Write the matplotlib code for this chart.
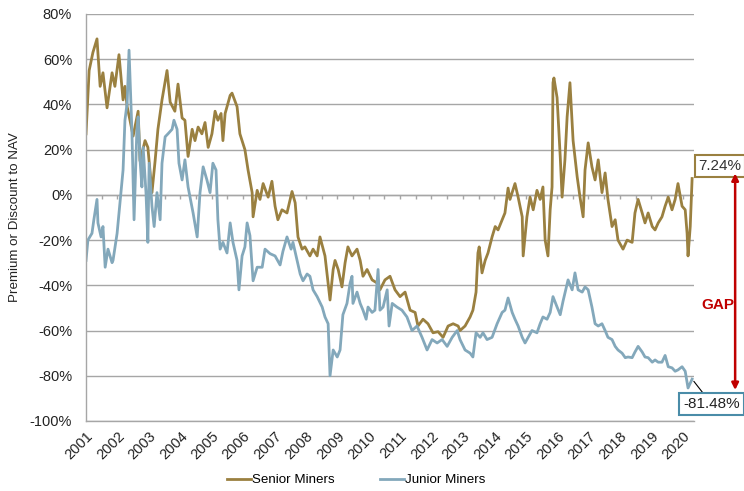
import matplotlib
matplotlib.use("Agg")
import matplotlib.pyplot as plt
import numpy as np

plt.rcParams["font.family"] = ["Liberation Sans", "DejaVu Sans"]
plt.rcParams["font.size"] = 10.5

# Data (decimal year, premium/discount in %)
senior_years = [2001.00, 2001.10, 2001.22, 2001.35, 2001.45, 2001.54, 2001.67, 2001.83, 2001.92, 2002.05,
                2002.18, 2002.24, 2002.31, 2002.40, 2002.50, 2002.66, 2002.72, 2002.88, 2002.97, 2003.10,
                2003.20, 2003.29, 2003.42, 2003.58, 2003.68, 2003.83, 2003.93, 2004.06, 2004.15, 2004.25,
                2004.38, 2004.47, 2004.57, 2004.69, 2004.79, 2004.89, 2005.01, 2005.11, 2005.20, 2005.30,
                2005.36, 2005.43, 2005.59, 2005.65, 2005.81, 2005.90, 2006.06, 2006.16, 2006.29, 2006.32,
                2006.45, 2006.54, 2006.64, 2006.80, 2006.92, 2007.02, 2007.11, 2007.24, 2007.40, 2007.56,
                2007.66, 2007.75, 2007.88, 2007.97, 2008.13, 2008.23, 2008.36, 2008.45, 2008.61, 2008.77,
                2008.87, 2008.93, 2009.03, 2009.15, 2009.25, 2009.34, 2009.47, 2009.63, 2009.73, 2009.82,
                2009.95, 2010.11, 2010.27, 2010.36, 2010.52, 2010.68, 2010.84, 2011.00, 2011.16, 2011.32,
                2011.48, 2011.57, 2011.73, 2011.89, 2012.05, 2012.21, 2012.37, 2012.53, 2012.69, 2012.85,
                2012.91, 2013.07, 2013.23, 2013.32, 2013.42, 2013.48, 2013.52, 2013.61, 2013.71, 2013.80,
                2013.93, 2014.03, 2014.12, 2014.25, 2014.34, 2014.44, 2014.50, 2014.66, 2014.76, 2014.89,
                2014.92, 2015.04, 2015.14, 2015.24, 2015.36, 2015.46, 2015.55, 2015.62, 2015.71, 2015.78,
                2015.84, 2015.87, 2015.90, 2016.00, 2016.10, 2016.16, 2016.25, 2016.32, 2016.41, 2016.51,
                2016.64, 2016.73, 2016.83, 2016.89, 2016.99, 2017.11, 2017.21, 2017.31, 2017.43, 2017.53,
                2017.62, 2017.75, 2017.85, 2017.94, 2018.10, 2018.23, 2018.39, 2018.48, 2018.58, 2018.71,
                2018.80, 2018.90, 2019.03, 2019.12, 2019.22, 2019.34, 2019.44, 2019.54, 2019.66, 2019.76,
                2019.85, 2019.98, 2020.08, 2020.14, 2020.17, 2020.24, 2020.30]
senior_values = [27, 55, 63, 69, 48, 54, 38.5, 54, 48, 62,
                 42, 48, 39, 33, 26, 37, 15, 24, 21, 1,
                 15, 29, 42, 55, 41, 37, 49, 34, 33, 17,
                 29, 24, 30, 27, 32, 21, 27, 37, 33, 36,
                 24, 36, 44, 45, 39, 27, 20, 11, 1, -9.7,
                 2, -2, 5, -1, 6, -5, -11, -6.6, -8, 1.5,
                 -3.5, -18.6, -24, -23, -27, -24, -27, -18.6, -27, -46.5,
                 -33, -29, -33, -40.7, -30, -23, -27, -24, -29, -36,
                 -33, -37.6, -39, -42, -37.6, -36, -42, -45, -43, -51,
                 -52, -58, -55, -57, -61, -60.5, -63, -58, -57, -58,
                 -60, -58, -54, -51, -43, -25.7, -23, -34.5, -29, -25.7,
                 -18.6, -14, -15.5, -11, -8, 3, -2, 5, -1, -9.7,
                 -27, -9.7, -1, -6.6, 2, -2, 3.5, -20, -27, -6.6,
                 3.5, 49.6, 51.7, 43, 17, -1, 15.5, 34.5, 49.6, 24,
                 8, -1, -9.7, 11, 23, 12.4, 6.6, 15.5, 1, 9.7,
                 -2, -14, -11, -20, -24, -20, -21, -8, -2, -8,
                 -12.4, -8, -14, -15.5, -12.4, -9.7, -5, -1, -6.6, -2,
                 5, -5, -6.6, -17, -27, -14, 7.24]

junior_years = [2001.00, 2001.06, 2001.19, 2001.25, 2001.35, 2001.38, 2001.48, 2001.54, 2001.61, 2001.70,
                2001.83, 2001.86, 2001.99, 2002.08, 2002.18, 2002.24, 2002.31, 2002.37, 2002.43, 2002.46,
                2002.53, 2002.62, 2002.66, 2002.72, 2002.78, 2002.82, 2002.91, 2002.97, 2003.01, 2003.10,
                2003.17, 2003.26, 2003.36, 2003.42, 2003.52, 2003.61, 2003.74, 2003.80, 2003.90, 2003.96,
                2004.06, 2004.15, 2004.25, 2004.41, 2004.54, 2004.63, 2004.73, 2004.85, 2004.95, 2005.04,
                2005.14, 2005.20, 2005.27, 2005.36, 2005.49, 2005.59, 2005.68, 2005.81, 2005.87, 2005.97,
                2006.06, 2006.13, 2006.22, 2006.32, 2006.45, 2006.61, 2006.70, 2006.86, 2007.02, 2007.18,
                2007.27, 2007.40, 2007.53, 2007.59, 2007.72, 2007.82, 2007.91, 2008.04, 2008.13, 2008.23,
                2008.36, 2008.52, 2008.61, 2008.71, 2008.77, 2008.87, 2009.00, 2009.09, 2009.18, 2009.31,
                2009.41, 2009.47, 2009.50, 2009.63, 2009.73, 2009.82, 2009.92, 2009.98, 2010.11, 2010.20,
                2010.30, 2010.36, 2010.46, 2010.59, 2010.65, 2010.75, 2010.90, 2011.06, 2011.22, 2011.38,
                2011.54, 2011.70, 2011.86, 2012.02, 2012.18, 2012.34, 2012.50, 2012.66, 2012.82, 2012.91,
                2013.07, 2013.23, 2013.32, 2013.42, 2013.55, 2013.64, 2013.77, 2013.93, 2014.09, 2014.25,
                2014.34, 2014.44, 2014.57, 2014.66, 2014.76, 2014.89, 2014.98, 2015.08, 2015.20, 2015.36,
                2015.46, 2015.55, 2015.68, 2015.78, 2015.87, 2016.00, 2016.10, 2016.19, 2016.35, 2016.48,
                2016.57, 2016.67, 2016.80, 2016.89, 2016.99, 2017.11, 2017.21, 2017.31, 2017.43, 2017.53,
                2017.62, 2017.75, 2017.85, 2017.94, 2018.07, 2018.17, 2018.26, 2018.39, 2018.48, 2018.58,
                2018.71, 2018.80, 2018.90, 2019.03, 2019.12, 2019.22, 2019.34, 2019.44, 2019.54, 2019.66,
                2019.76, 2019.85, 2019.98, 2020.08, 2020.17, 2020.30]
junior_values = [-29, -20, -17, -11, -2, -12.4, -18.6, -14, -32, -24,
                 -30, -29, -17, -3.5, 11, 33, 40.7, 64, 40.7, 29,
                 -11, 29, 34.5, 15.5, 3.5, 21, 1, -21, 14, -5,
                 -14, 1, -11, 14, 25.7, 27, 29, 33, 29, 14,
                 6.6, 15.5, 3.5, -8, -18.6, 1, 12.4, 6.6, 1, 14,
                 11, -11, -24, -21, -25.7, -12.4, -21, -29, -42, -27,
                 -23, -12.4, -18, -38, -32, -32, -24, -26, -27, -31,
                 -25, -18.6, -24, -21, -29, -35, -38, -35, -36, -42,
                 -45, -49.6, -54, -57, -80, -68.6, -71.7, -68.6, -53, -48,
                 -39, -36, -48, -43, -48, -51, -55, -49.6, -52, -51,
                 -33, -51, -49.6, -42, -58, -48, -49.6, -51, -54, -60,
                 -58, -63, -68.6, -64, -65.5, -64, -67, -63, -60, -64,
                 -68.6, -70, -71.7, -61, -63, -61, -64, -63, -57, -52,
                 -51, -45.6, -52, -55, -58, -63, -65.5, -63, -60, -61,
                 -57, -54, -55, -52, -45, -49.6, -53, -47, -37.6, -42,
                 -34.5, -42, -43, -40.7, -42, -49.6, -57, -58, -57, -60,
                 -63, -64, -67, -68.6, -70, -72, -71.7, -72, -69.5, -67,
                 -69.5, -71.7, -72, -74, -73, -74, -74, -71, -76, -76.5,
                 -78, -77.4, -76, -78, -85.4, -81.48]

year_ticks = list(range(2001, 2021))
half_year_ticks = np.arange(2001, 2020.4, 0.5)
y_ticks = list(range(-100, 81, 20))

gold = "#9A8040"
blue = "#83A8BB"

fig = plt.figure(figsize=(7.44, 4.91), dpi=100)
ax = fig.add_axes([0.1156, 0.1426, 0.8172, 0.8289])

ax.plot(senior_years, senior_values, color=gold, lw=2.0, label="Senior Miners", solid_joinstyle="round")
ax.plot(junior_years, junior_values, color=blue, lw=2.0, label="Junior Miners", solid_joinstyle="round")

ax.set_xlim(2001, 2020.36)
ax.set_ylim(-100, 80)
ax.set_yticks(y_ticks)
ax.set_yticklabels([f"{v}%" for v in y_ticks])
ax.set_xticks(year_ticks)
ax.set_xticklabels([str(y) for y in year_ticks], rotation=45, ha="right", rotation_mode="anchor")
ax.tick_params(axis="x", length=0, pad=6, labelsize=10.5, colors="#222222")
ax.tick_params(axis="y", length=0, pad=10, labelsize=10.5, colors="#222222")

ax.grid(axis="y", color="#A6A6A6", lw=1.0)
ax.set_axisbelow(True)
for s in ["top", "right"]:
    ax.spines[s].set_visible(False)
for s in ["left", "bottom"]:
    ax.spines[s].set_color("#A6A6A6")
    ax.spines[s].set_linewidth(1.0)

# category axis at 0% with small tick marks
ax.axhline(0, color="#A6A6A6", lw=1.0, zorder=0.5)
ax.vlines(half_year_ticks, -1.8, 0, color="#A6A6A6", lw=1.0, zorder=0.5)

ax.set_ylabel("Premium or Discount to NAV", fontsize=9.6, color="#222222", labelpad=6)

# end value labels
ax.annotate(f"{senior_values[-1]:.2f}%", xy=(senior_years[-1], senior_values[-1]),
            xytext=(2021.19, 12.8), ha="center", va="center", fontsize=11, color="#333333",
            bbox=dict(boxstyle="square,pad=0.25", fc="white", ec=gold, lw=1.5),
            annotation_clip=False)
ax.annotate(f"{junior_values[-1]:.2f}%", xy=(junior_years[-1], junior_values[-1]),
            xytext=(2020.92, -92.5), ha="center", va="center", fontsize=11, color="#222222",
            bbox=dict(boxstyle="square,pad=0.25", fc="white", ec="#4A8CA8", lw=1.5),
            arrowprops=dict(arrowstyle="-", color="black", lw=0.8, shrinkA=0, shrinkB=2),
            annotation_clip=False)

# GAP arrow
ax.annotate("", xy=(2021.67, 9.5), xytext=(2021.67, -86.3),
            arrowprops=dict(arrowstyle="<|-|>", color="#C00000", lw=1.8, mutation_scale=10,
                            shrinkA=0, shrinkB=0),
            annotation_clip=False)
ax.text(2021.13, -48.7, "GAP", color="#C00000", fontsize=11, fontweight="bold",
        ha="center", va="center", clip_on=False)

fig.legend(loc="center", bbox_to_anchor=(0.479, 0.022), ncol=2, frameon=False,
           handlelength=1.75, handletextpad=0.12, columnspacing=3.4, fontsize=9.6)

fig.savefig("out.png", dpi=100)
